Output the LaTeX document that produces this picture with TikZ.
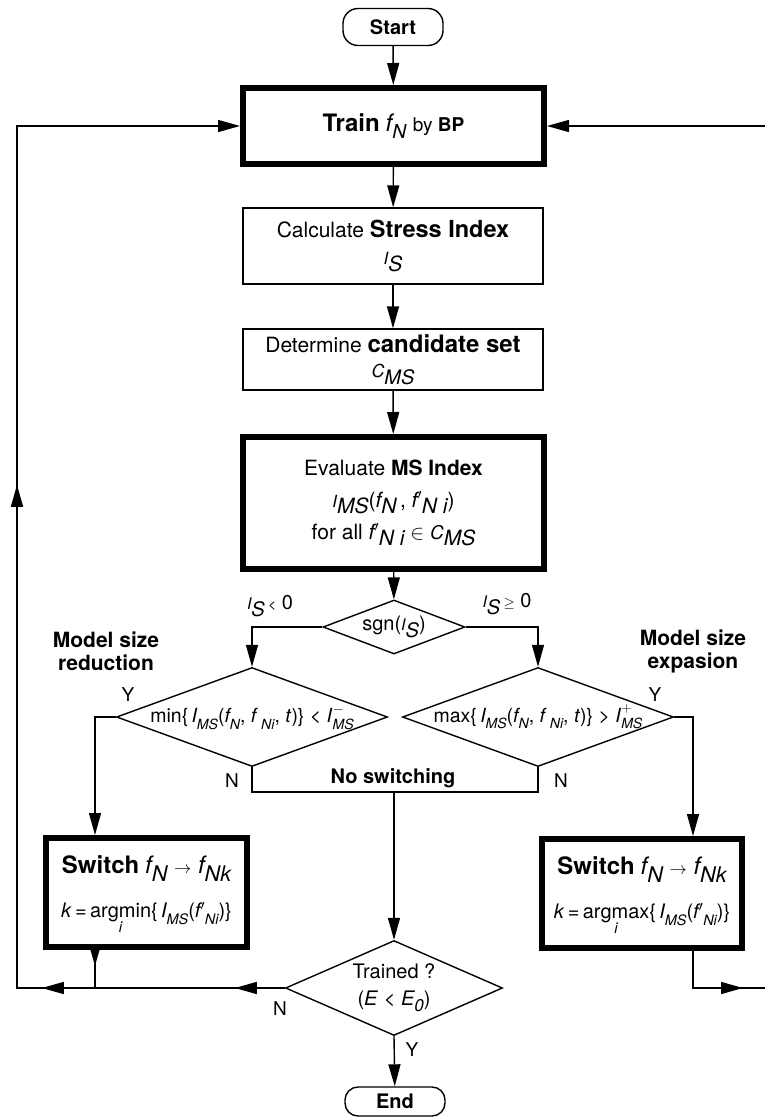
\documentclass[tikz,border=0pt]{standalone}
\usepackage{graphicx}
\usepackage{fontspec}
\setmainfont{TeX Gyre Heros}
\usetikzlibrary{arrows.meta,shapes.geometric,decorations.markings,calc}

% italic symbol with a lowered italic index: {base scale}{base}{index scale}{index}
\newcommand\fsub[4]{\scalebox{#1}{\itshape #2}\raisebox{-0.32em}{\scalebox{#3}{\itshape #4}}}
% threshold I with sign on top and MS below
\newcommand\Ith[1]{\textit{I}\rlap{\raisebox{0.5em}{\scalebox{0.7}{#1}}}\raisebox{-0.32em}{\scalebox{0.72}{\itshape MS}}}
\newcommand\fz[1]{\fontsize{#1}{#1}\selectfont}
\newcommand\tarrow{{\fz{17}$\rightarrow$}}

\begin{document}
\begin{tikzpicture}[x=1pt,y=-1pt,
  >={Triangle[length=22pt,width=12pt]},
  line/.style={line width=1.4pt},
  arr/.style={line,->},
  term/.style={draw,line width=1.4pt,rounded corners=15pt,minimum width=100pt,
    minimum height=37pt,inner sep=0pt,font=\fz{20}\bfseries},
  box/.style={draw,line width=1.4pt,minimum width=300pt,minimum height=76pt,
    inner sep=2pt,align=center,font=\fontsize{21}{27}\selectfont},
  tbox/.style={draw,line width=6pt,minimum width=301pt,minimum height=76pt,
    inner sep=2pt,align=center,font=\fontsize{21}{27}\selectfont},
  dia/.style={draw,line width=1.4pt,diamond,inner sep=0pt},
  lab/.style={inner sep=0pt,font=\fz{19}},
  note/.style={inner sep=0pt,align=center,font=\fontsize{21}{23}\selectfont\bfseries},
  midarr/.style={postaction={decorate},decoration={markings,
    mark=at position #1 with {\arrow{>}}}}
]
\useasboundingbox (0,0) rectangle (765,1117);

% ---- main column ----
\node[term] (start) at (393,27) {Start};
\node[tbox] (train) at (393.5,126)
  {{\fz{24}\bfseries Train} \fz{24}\fsub{1}{f}{0.8}{N}\ {\fz{19}by \textbf{BP}}};
\node[box] (calc) at (393,246)
  {Calculate {\fz{23.5}\bfseries Stress Index}\\ \fsub{0.8}{I}{1}{S}};
\node[box,minimum height=61pt] (det) at (393,359.5)
  {Determine {\fz{24}\bfseries candidate set}\\[-2pt] \fsub{0.85}{C}{0.95}{MS}};
\node[tbox,minimum height=132pt,font=\fontsize{21}{32}\selectfont] (eval) at (393.5,503)
  {Evaluate \textbf{MS Index}\\
   \fsub{0.8}{I}{1}{MS}(\fsub{1}{f}{1}{N}\,, \fsub{1}{f$'$}{1}{N i})\\
   for all \fsub{1}{f$'$}{1}{N i} $\in$ \fsub{0.9}{C}{1}{MS}};

% ---- decisions ----
\node[dia,minimum width=142pt,minimum height=54pt] (sgn) at (394,627) {};
\node[lab,font=\fz{20}] (sgntxt) at (sgn.center) {sgn(\fsub{0.8}{I}{1}{S})};

\node[dia,minimum width=271pt,minimum height=99pt] (mind) at (252,717) {};
\node[lab,font=\fz{19.5}] (mintxt) at (mind.center)
  {min\{\,\fsub{1}{I}{0.72}{MS}(\fsub{1}{f}{0.72}{N}, \textit{f}\,\raisebox{-0.32em}{\scalebox{0.72}{\itshape Ni}}, \textit{t})\} < \Ith{$-$}};
\node[dia,minimum width=271pt,minimum height=99pt] (maxd) at (538,717) {};
\node[lab,font=\fz{19.5}] (maxtxt) at (maxd.center)
  {max\{\,\fsub{1}{I}{0.72}{MS}(\fsub{1}{f}{0.72}{N}, \textit{f}\,\raisebox{-0.32em}{\scalebox{0.72}{\itshape Ni}}, \textit{t})\} > \Ith{$+$}};

% ---- switching boxes ----
\node[tbox,minimum width=201pt,minimum height=109pt] (swl) at (146.5,892.5)
  {{\fz{24}\bfseries Switch} \fz{24}\fsub{1}{f}{0.9}{N} \tarrow{} \fsub{1}{f}{0.9}{Nk}\\[17pt]
   \fz{20}\textit{k}\,=\,\begin{tabular}[t]{@{}c@{}}argmin\\[-5pt]\scalebox{0.75}{\itshape i}\end{tabular}\{\,\fsub{1}{I}{0.72}{MS}(\fsub{1}{f$'$}{0.72}{Ni})\}\\[-16pt]};
\node[tbox,minimum width=200pt,minimum height=109pt] (swr) at (642,893.5)
  {{\fz{24}\bfseries Switch} \fz{24}\fsub{1}{f}{0.9}{N} \tarrow{} \fsub{1}{f}{0.9}{Nk}\\[17pt]
   \fz{20}\textit{k}\,=\,\begin{tabular}[t]{@{}c@{}}argmax\\[-5pt]\scalebox{0.75}{\itshape i}\end{tabular}\{\,\fsub{1}{I}{0.72}{MS}(\fsub{1}{f$'$}{0.72}{Ni})\}\\[-16pt]};

% ---- termination test ----
\node[dia,minimum width=217pt,minimum height=95pt] (trd) at (394,988) {};
\node[lab,align=center,font=\fontsize{20}{27}\selectfont] (trdtxt) at (trd.center)
  {Trained ?\\(\textit{E} < \fsub{1}{E}{0.85}{0})};
\node[term,minimum height=29pt,rounded corners=13pt] (end) at (395,1101.5) {End};

% ---- labels ----
\node[lab,font=\fz{20}] (lneg) at (270,606) {\fsub{0.8}{I}{1}{S}\,{\fz{14}<} 0};
\node[lab,font=\fz{20}] (lpos) at (507,604) {\fsub{0.8}{I}{1}{S}\,{\fz{14}$\geq$} 0};
\node[note] (redu) at (106,651) {Model size\\reduction};
\node[note] (expa) at (693,651) {Model size\\expasion};
\node[lab] (yl) at (128,695) {Y};
\node[lab] (yr) at (655,695) {Y};
\node[lab] (nl) at (232,781) {N};
\node[lab] (nr) at (561,781) {N};
\node[lab,font=\fz{20}\bfseries] (nosw) at (393,778) {No switching};
\node[lab] (ntr) at (280,1009) {N};
\node[lab] (ytr) at (412,1050) {Y};

% ---- routing points ----
\coordinate (cyl) at (95,717);
\coordinate (cyr) at (693,717);
\coordinate (ns) at (394,792);
\coordinate (jl) at (95,988);
\coordinate (bl) at (17,988);
\coordinate (tl) at (17,126);
\coordinate (br) at (766,988);
\coordinate (tr) at (766,126);

% ---- connectors ----
\draw[arr] (start) -- (train);
\draw[arr] (train) -- (calc);
\draw[arr] (calc) -- (det);
\draw[arr] (det) -- (eval);
\draw[arr] (eval) -- (sgn);
\draw[arr] (sgn.west) -| (mind.north);
\draw[arr] (sgn.east) -| (maxd.north);
\draw[arr] (mind.west) -- (cyl) -- (cyl |- swl.north);
\draw[arr] (maxd.east) -- (cyr) -- (cyr |- swr.north);
\draw[line] (mind.south) |- (ns) -| (maxd.south);
\draw[arr] (ns) -- (trd.north);
\draw[arr] (trd.south) -- (end);
\draw[line,midarr=16pt] (cyl |- swl.south) -- (jl);
\draw[arr,postaction={decorate},decoration={markings,
    mark=at position 50pt with {\arrow{>}},
    mark=at position 243pt with {\arrow{>}},
    mark=at position 771pt with {\arrow{>}}}]
  (trd.west) -- (bl) -- (tl) -- (train.west);
\draw[arr,midarr=87pt] (cyr |- swr.south) |- (br) -- (tr) -- (train.east);
\end{tikzpicture}
\end{document}
